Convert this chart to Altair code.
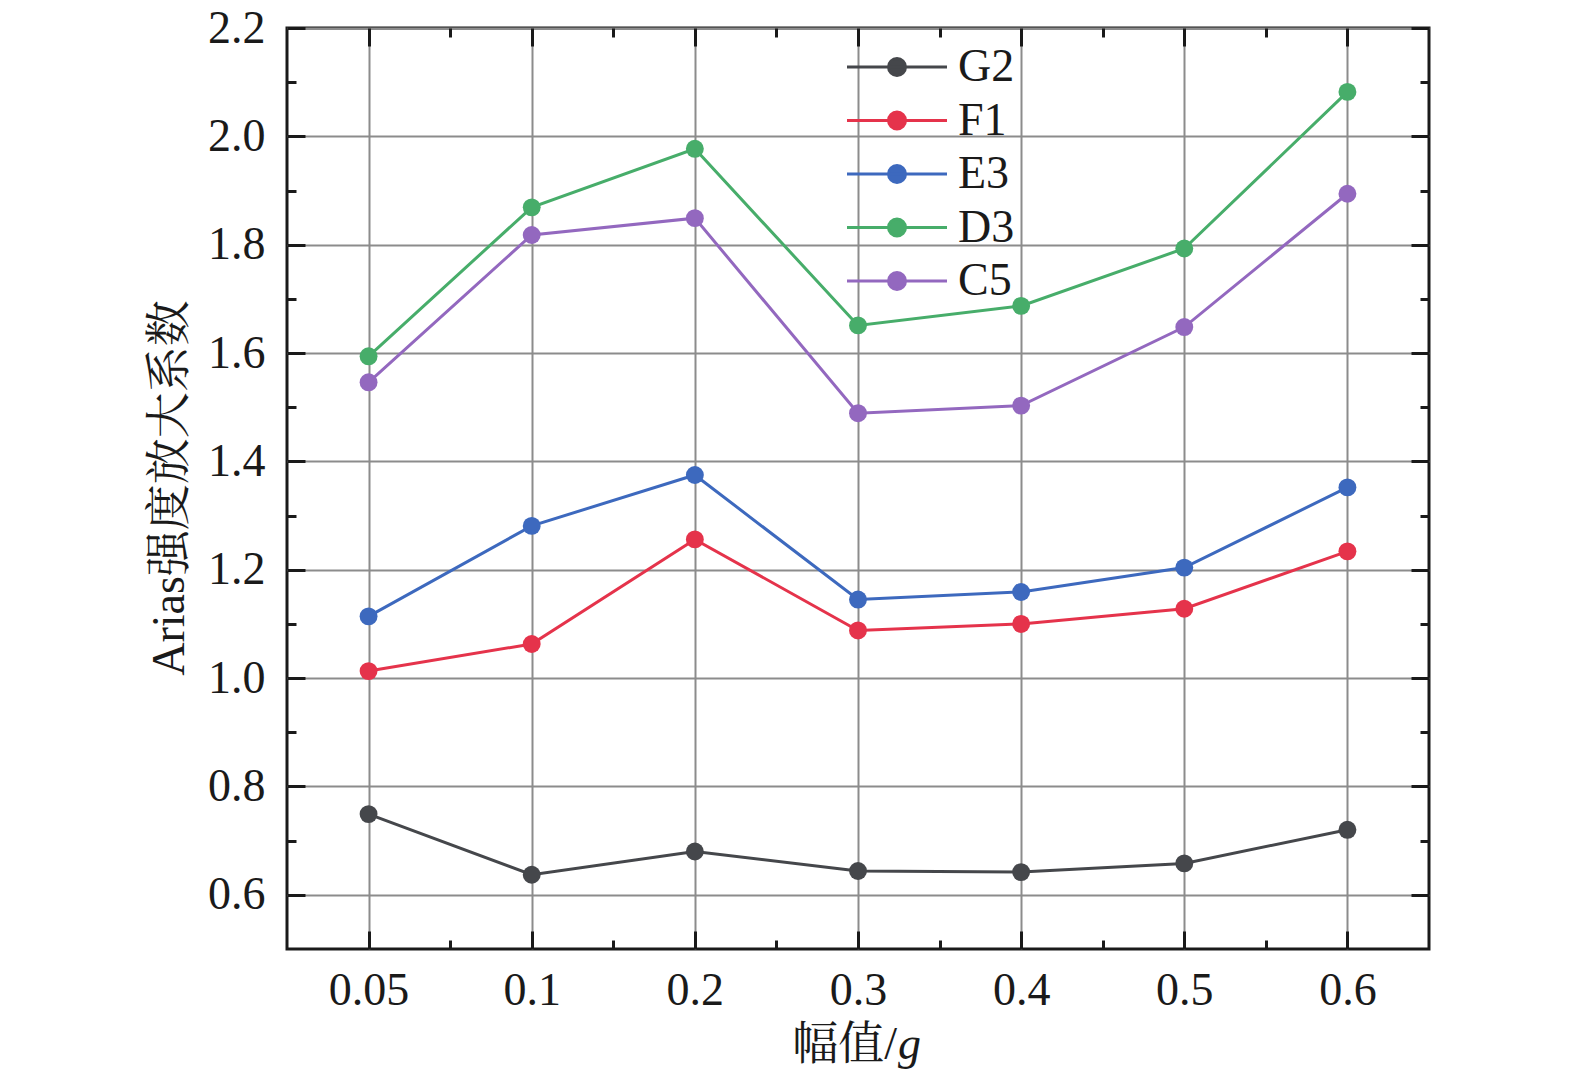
import altair as alt
import pandas as pd

x_labels = ["0.05", "0.1", "0.2", "0.3", "0.4", "0.5", "0.6"]
series_names = ["G2", "F1", "E3", "D3", "C5"]
series_colors = ["#45474b", "#e5334b", "#3d69be", "#47ad6a", "#9368bf"]

g2 = [0.749, 0.637, 0.680, 0.644, 0.642, 0.658, 0.720]
f1 = [1.013, 1.063, 1.256, 1.088, 1.100, 1.128, 1.234]
e3 = [1.114, 1.281, 1.375, 1.145, 1.159, 1.204, 1.352]
d3 = [1.594, 1.869, 1.977, 1.651, 1.687, 1.793, 2.082]
c5 = [1.546, 1.818, 1.849, 1.489, 1.503, 1.648, 1.894]

y_major = [0.6, 0.8, 1.0, 1.2, 1.4, 1.6, 1.8, 2.0, 2.2]
y_minor = [0.7, 0.9, 1.1, 1.3, 1.5, 1.7, 1.9, 2.1]
x_major = [0, 1, 2, 3, 4, 5, 6]
x_minor = [0.5, 1.5, 2.5, 3.5, 4.5, 5.5]

values = [g2, f1, e3, d3, c5]
rows = []
for name, vals in zip(series_names, values):
    for i, v in enumerate(vals):
        rows.append({"series": name, "xi": i, "val": v})
df = pd.DataFrame(rows)

FONT = "Liberation Serif, Times New Roman, Noto Serif CJK SC, Noto Sans CJK SC, serif"
PLOT_LEFT = 287
PLOT_RIGHT = 1429
PLOT_TOP = 28          # page y of the plot's top edge
PLOT_BOTTOM = 949      # page y of the plot's bottom edge
SVG_BOTTOM = 1070      # page y of the svg's bottom edge
W, H = PLOT_RIGHT - PLOT_LEFT, PLOT_BOTTOM - PLOT_TOP
FS = 46
INK = "#1a1a1a"
GRID = "#8c8c8c"

x_dom = [-0.5, 6.5]
y_dom = [0.5, 2.2]
label_expr = "[" + ",".join("'%s'" % s for s in x_labels) + "][datum.value]"

LEG_PATH = "M-5,0L5,0M-0.85,0A0.85,0.85 0 1 0 0.85,0A0.85,0.85 0 1 0 -0.85,0Z"

base = alt.Chart(df)


def ghost(xaxis, yaxis):
    return base.mark_point(opacity=0).encode(
        x=alt.X("xi:Q", scale=alt.Scale(domain=x_dom, nice=False, zero=False), axis=xaxis),
        y=alt.Y("val:Q", scale=alt.Scale(domain=y_dom, nice=False, zero=False), axis=yaxis),
    )


def tick_axis(orient, vals, size):
    return alt.Axis(
        orient=orient, values=vals, labels=False, grid=False, domain=False,
        ticks=True, tickSize=size, offset=-size, tickColor=INK, tickWidth=3,
        title=None,
    )


label_layer = ghost(
    alt.Axis(
        orient="bottom", values=x_major, labelExpr=label_expr, grid=True,
        gridColor=GRID, gridWidth=2, ticks=False, tickSize=0, domain=False,
        labelFont=FONT, labelFontSize=FS, labelColor=INK, labelPadding=19,
        title=None,
    ),
    alt.Axis(
        orient="left", values=y_major, format=".1f", grid=True,
        gridColor=GRID, gridWidth=2, ticks=False, tickSize=0, domain=False,
        labelFont=FONT, labelFontSize=FS, labelColor=INK, labelPadding=22,
        title="Arias强度放大系数", titleFont=FONT, titleFontSize=FS,
        titleFontWeight="normal", titleColor=INK, titleX=-104,
        titleY=487.5 - PLOT_TOP,
        titleAlign="center", titleBaseline="alphabetic", titleAngle=270,
    ),
)

layers = [
    label_layer,
    ghost(tick_axis("bottom", x_major, 18), tick_axis("left", y_major, 18)),
    ghost(tick_axis("bottom", x_minor, 9), tick_axis("left", y_minor, 9)),
    ghost(tick_axis("top", x_major, 18), tick_axis("right", y_major, 18)),
    ghost(tick_axis("top", x_minor, 9), tick_axis("right", y_minor, 9)),
]

xs = alt.X("xi:Q", scale=alt.Scale(domain=x_dom, nice=False, zero=False), axis=None)
ys = alt.Y("val:Q", scale=alt.Scale(domain=y_dom, nice=False, zero=False), axis=None)


def legend():
    return alt.Legend(
        orient="none", legendX=587, legendY=66 - PLOT_TOP - 22, title=None,
        symbolType=LEG_PATH, symbolSize=400, symbolStrokeWidth=3,
        symbolOpacity=1,
        labelFont=FONT, labelFontSize=FS, labelColor=INK, labelOpacity=1,
        labelOffset=38, rowPadding=7.5, padding=0,
    )


lines = base.mark_line(strokeWidth=3).encode(
    x=xs, y=ys,
    stroke=alt.Stroke(
        "series:N",
        scale=alt.Scale(domain=series_names, range=series_colors),
        legend=legend(),
    ),
    detail="series:N",
)

points = base.mark_point(filled=True, size=320, opacity=1).encode(
    x=xs, y=ys,
    fill=alt.Fill(
        "series:N",
        scale=alt.Scale(domain=series_names, range=series_colors),
        legend=legend(),
    ),
)

data_layer = alt.layer(lines, points)

TITLE_BASE = 1059
JOIN_X = 897 - PLOT_LEFT
title_a = alt.Chart(alt.Data(values=[{"t": "幅值/"}])).mark_text(
    align="right", baseline="alphabetic", font=FONT, fontSize=FS, color=INK
).encode(x=alt.value(JOIN_X), y=alt.value(TITLE_BASE - PLOT_TOP), text="t:N")

title_b = alt.Chart(alt.Data(values=[{"t": "g"}])).mark_text(
    align="left", baseline="alphabetic", font=FONT, fontSize=FS, color=INK,
    fontStyle="italic",
).encode(x=alt.value(JOIN_X + 1), y=alt.value(TITLE_BASE - PLOT_TOP), text="t:N")

chart = alt.layer(*layers, data_layer, title_a, title_b).resolve_scale(
    x="independent", y="independent"
).properties(
    width=W, height=H,
    autosize=alt.AutoSizeParams(type="none"),
    padding={"left": PLOT_LEFT - 8, "top": PLOT_TOP - 8, "right": 20,
             "bottom": SVG_BOTTOM - PLOT_BOTTOM},
    background="white",
).configure_view(
    stroke=INK, strokeWidth=3
)

chart.save("out.html", embed_options={"renderer": "svg", "actions": False})
